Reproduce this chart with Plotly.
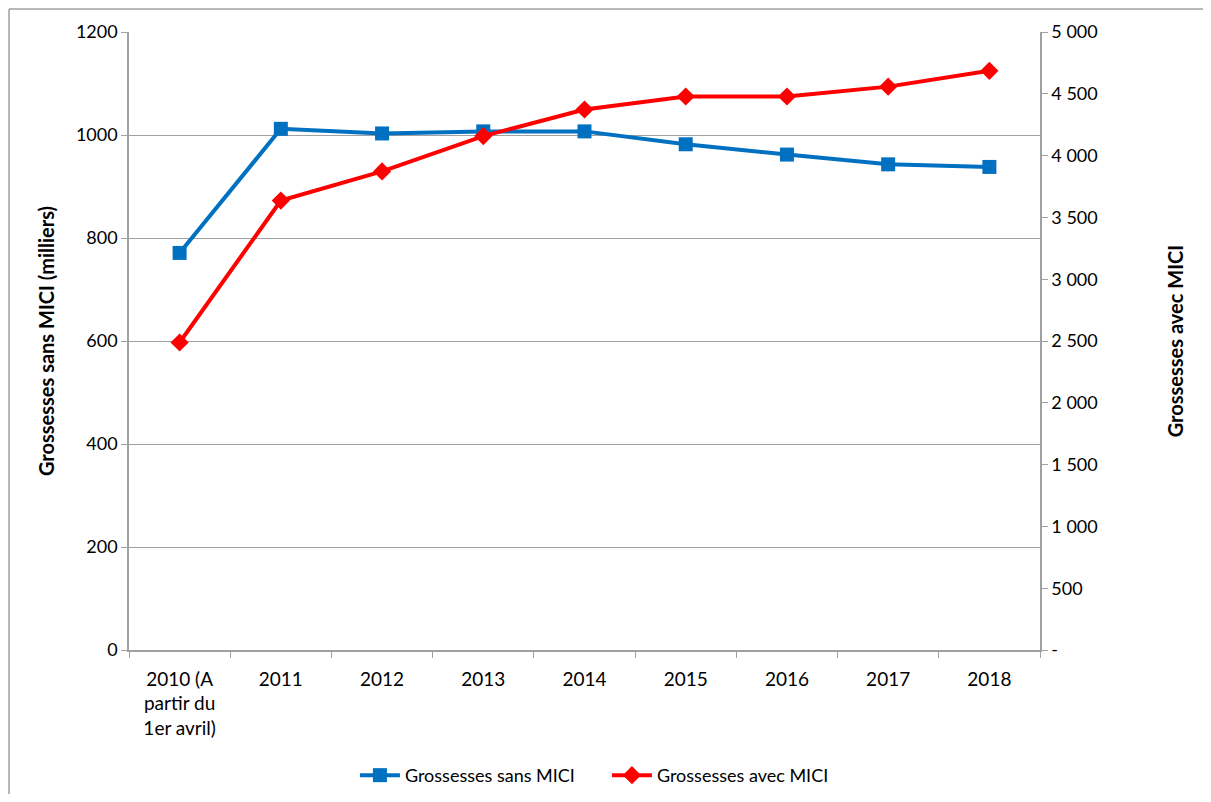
import plotly.graph_objects as go

categories = ["2010 (A<br>partir du<br>1er avril)", "2011", "2012", "2013", "2014",
              "2015", "2016", "2017", "2018"]
sans_mici = [771, 1012, 1003, 1007, 1007, 982, 962, 943, 938]
avec_mici = [2488, 3636, 3872, 4158, 4373, 4478, 4478, 4558, 4686]

left_ticks = [0, 200, 400, 600, 800, 1000, 1200]
right_tickvals = [0, 500, 1000, 1500, 2000, 2500, 3000, 3500, 4000, 4500, 5000]
right_ticktext = ["-", "500", "1 000", "1 500", "2 000", "2 500", "3 000",
                  "3 500", "4 000", "4 500", "5 000"]

BLUE = "#0070C0"
RED = "#FF0000"
GRID = "#A0A0A0"
FONT = "Lato, Carlito, Calibri, sans-serif"

fig = go.Figure()
fig.add_trace(go.Scatter(
    x=categories, y=sans_mici, name="Grossesses sans MICI",
    mode="lines+markers",
    line=dict(color=BLUE, width=4),
    marker=dict(symbol="square", size=14, color=BLUE),
    yaxis="y", cliponaxis=False,
))
fig.add_trace(go.Scatter(
    x=categories, y=avec_mici, name="Grossesses avec MICI",
    mode="lines+markers",
    line=dict(color=RED, width=4),
    marker=dict(symbol="diamond", size=14, color=RED),
    yaxis="y2", cliponaxis=False,
))

fig.update_layout(
    width=1195, height=786,
    margin=dict(l=121, r=163, t=24, b=144, autoexpand=False),
    paper_bgcolor="white", plot_bgcolor="white",
    font=dict(family=FONT, size=18, color="#000000"),
    xaxis=dict(
        type="category",
        tickson="boundaries",
        ticks="outside", ticklen=6, tickcolor=GRID,
        showline=True, linecolor=GRID, linewidth=1.5,
        showgrid=False,
        tickfont=dict(size=19),
        ticklabelstandoff=11,
        range=[-0.5, 8.5],
        automargin=False,
    ),
    yaxis=dict(
        range=[0, 1200],
        tickvals=left_ticks,
        ticks="outside", ticklen=6, tickcolor=GRID,
        showline=True, linecolor=GRID, linewidth=1.5,
        showgrid=True, gridcolor=GRID, gridwidth=1.2,
        zeroline=False,
        tickfont=dict(size=18),
        title=dict(text="<b>Grossesses sans MICI (milliers)</b>",
                   font=dict(size=20), standoff=16),
        automargin=False,
    ),
    yaxis2=dict(
        range=[0, 5000],
        overlaying="y", side="right",
        tickvals=right_tickvals, ticktext=right_ticktext,
        ticks="outside", ticklen=6, tickcolor=GRID,
        showline=True, linecolor=GRID, linewidth=1.5,
        showgrid=False, zeroline=False,
        tickfont=dict(size=18),
        title=dict(text="<b>Grossesses avec MICI</b>",
                   font=dict(size=20), standoff=72),
        automargin=False,
    ),
    legend=dict(
        orientation="h", x=0.248, xanchor="left",
        y=-0.203, yanchor="middle",
        font=dict(size=18),
        itemwidth=40,
        entrywidth=197, entrywidthmode="pixels",
        traceorder="normal",
    ),
    shapes=[
        dict(type="line", xref="paper", yref="paper",
             x0=-0.1317, x1=-0.1317, y0=-0.4, y1=1.0372,
             line=dict(color="#A0A0A0", width=1.5), layer="below"),
        dict(type="line", xref="paper", yref="paper",
             x0=-0.1317, x1=1.3, y0=1.0372, y1=1.0372,
             line=dict(color="#A0A0A0", width=1.5), layer="below"),
    ],
)

fig.write_html("out.html")
